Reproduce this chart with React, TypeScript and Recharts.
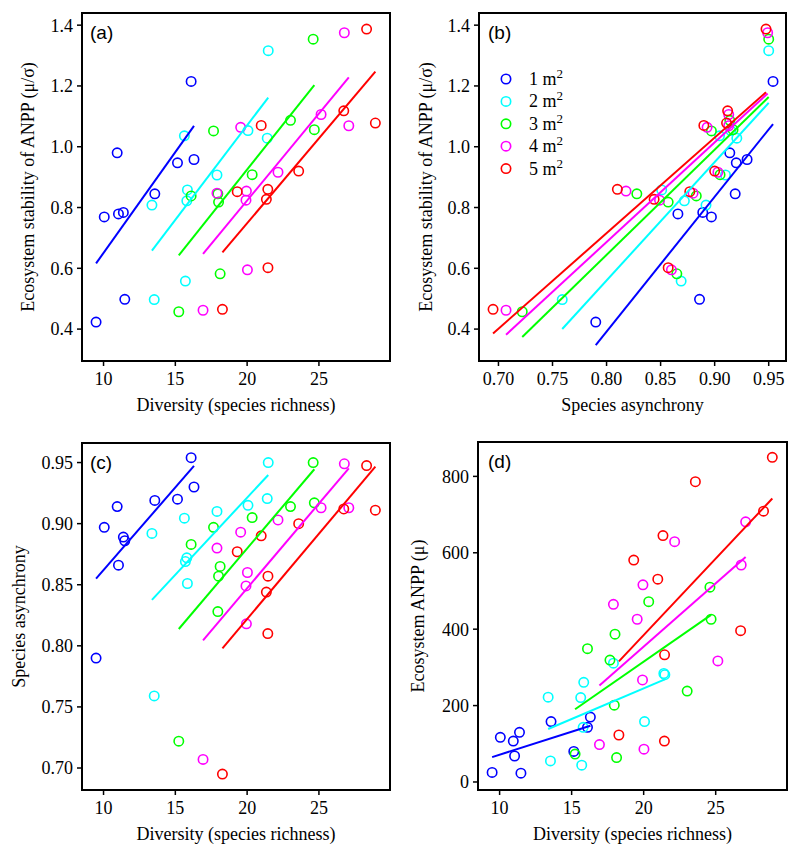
import { ScatterChart, Scatter, XAxis, YAxis, ReferenceArea, Customized } from 'recharts';

const serif = '"Liberation Serif", "Times New Roman", serif';
const sans = '"Liberation Sans", Arial, sans-serif';

const scaleNames = ['1', '2', '3', '4', '5'];
const colors = ['#0000FF', '#00FFFF', '#00FF00', '#FF00FF', '#FF0000'];

// 1 m2 plots
const richness1 = [16.1, 16.3, 13.57, 15.15, 10.95, 10.05, 11.38, 11.48, 11.04, 9.48];
const stability1 = [1.215, 0.958, 0.845, 0.947, 0.98, 0.769, 0.784, 0.498, 0.779, 0.423];
const asynchrony1 = [0.954, 0.93, 0.919, 0.92, 0.914, 0.897, 0.889, 0.886, 0.866, 0.79];
const anpp1 = [143, 170, 158, 80, 107, 117, 130, 23, 68, 25];

// 2 m2
const richness2 = [21.47, 21.4, 20.06, 17.9, 15.63, 13.37, 15.8, 15.7, 15.84, 13.53];
const stability2 = [1.316, 1.028, 1.053, 0.907, 1.036, 0.808, 0.822, 0.558, 0.858, 0.497];
const asynchrony2 = [0.95, 0.9205, 0.915, 0.91, 0.9045, 0.892, 0.872, 0.869, 0.851, 0.759];
const anpp2 = [281, 284, 158, 311, 221, 222, 143, 44, 261, 55];

// 3 m2
const richness3 = [24.6, 24.68, 23.02, 20.35, 17.66, 16.1, 18.12, 18.01, 17.96, 15.24];
const stability3 = [1.354, 1.056, 1.087, 0.908, 1.052, 0.838, 0.582, 0.818, 0.845, 0.457];
const asynchrony3 = [0.95, 0.917, 0.914, 0.905, 0.897, 0.883, 0.865, 0.857, 0.828, 0.722];
const anpp3 = [510, 426, 238, 472, 319, 349, 64, 387, 201, 73];

// 4 m2
const richness4 = [26.77, 25.15, 27.08, 22.15, 19.55, 17.9, 20.02, 19.92, 19.95, 16.93];
const stability4 = [1.375, 1.106, 1.069, 0.916, 1.064, 0.847, 0.595, 0.824, 0.854, 0.462];
const asynchrony4 = [0.949, 0.913, 0.913, 0.903, 0.893, 0.88, 0.86, 0.849, 0.818, 0.707];
const anpp4 = [568, 317, 681, 629, 426, 465, 86, 267, 516, 98];

// 5 m2
const richness5 = [28.32, 26.73, 28.93, 23.59, 20.98, 19.31, 21.45, 21.34, 21.44, 18.28];
const stability5 = [1.387, 1.118, 1.078, 0.92, 1.07, 0.852, 0.602, 0.827, 0.86, 0.465];
const asynchrony5 = [0.9475, 0.912, 0.911, 0.9, 0.89, 0.877, 0.857, 0.844, 0.81, 0.695];
const anpp5 = [709, 396, 850, 786, 531, 581, 333, 645, 107, 123];

const richness = [richness1, richness2, richness3, richness4, richness5];
const stability = [stability1, stability2, stability3, stability4, stability5];
const asynchrony = [asynchrony1, asynchrony2, asynchrony3, asynchrony4, asynchrony5];
const anpp = [anpp1, anpp2, anpp3, anpp4, anpp5];

const richnessTicks = [10, 15, 20, 25];
const stabilityTicks = [0.4, 0.6, 0.8, 1.0, 1.2, 1.4];
const asynchronyTicks = [0.7, 0.75, 0.8, 0.85, 0.9, 0.95];
const anppTicks = [0, 200, 400, 600, 800];

const richnessDomain: [number, number] = [8.5, 29.95];
const stabilityDomain: [number, number] = [0.295, 1.44];
const asynchronyDomain: [number, number] = [0.682, 0.966];
const anppDomain: [number, number] = [-21, 890];

// least squares fit across the range of each group
function fitLine(xs: number[], ys: number[]) {
  const n = xs.length;
  const mx = xs.reduce((s, v) => s + v, 0) / n;
  const my = ys.reduce((s, v) => s + v, 0) / n;
  let sxy = 0;
  let sxx = 0;
  for (let i = 0; i < n; i++) {
    sxy += (xs[i] - mx) * (ys[i] - my);
    sxx += (xs[i] - mx) * (xs[i] - mx);
  }
  const b = sxy / sxx;
  const a = my - b * mx;
  const x0 = Math.min(...xs);
  const x1 = Math.max(...xs);
  return [
    { x: x0, y: a + b * x0 },
    { x: x1, y: a + b * x1 },
  ];
}

const ring = (color: string) => (props: any) => (
  <circle cx={props.cx} cy={props.cy} r={4.7} fill="none" stroke={color} strokeWidth={1.6} />
);
const noShape = () => <g />;

function Tag({ text, x, y }: { text: string; x: number; y: number }) {
  return (
    <text x={x} y={y} fontFamily={sans} fontSize={19} fill="#000">
      {text}
    </text>
  );
}

function ScaleLegend() {
  return (
    <g>
      {scaleNames.map((name, i) => {
        const cy = 79 + i * 22.4;
        return (
          <g key={name}>
            <circle cx={106} cy={cy} r={4.7} fill="none" stroke={colors[i]} strokeWidth={1.6} />
            <text x={129} y={cy + 6} fontFamily={serif} fontSize={18} fill="#000">
              {`${name} m`}
              <tspan dy={-7} fontSize={13}>2</tspan>
            </text>
          </g>
        );
      })}
    </g>
  );
}

interface PanelProps {
  left: number;
  top: number;
  height: number;
  margin: { top: number; right: number; bottom: number; left: number };
  yAxisWidth: number;
  xs: number[][];
  ys: number[][];
  xDomain: [number, number];
  yDomain: [number, number];
  xTicks: number[];
  yTicks: number[];
  xFmt: (v: number) => string;
  yFmt: (v: number) => string;
  xLabel: string;
  yLabel: string;
  yLabelOffset: number;
  tag: string;
  tagX: number;
  tagY: number;
  legend?: boolean;
}

function Panel(p: PanelProps) {
  const tickStyle = { fill: '#000', fontSize: 18, fontFamily: serif };
  return (
    <div style={{ position: 'absolute', left: p.left, top: p.top }}>
      <ScatterChart width={400} height={p.height} margin={p.margin}>
        <XAxis
          type="number"
          dataKey="x"
          domain={p.xDomain}
          ticks={p.xTicks}
          allowDataOverflow
          tickFormatter={p.xFmt}
          axisLine={false}
          tickLine={{ stroke: '#000', strokeWidth: 1.5 }}
          tickSize={5}
          tickMargin={6}
          tick={tickStyle}
          height={50}
          label={{ value: p.xLabel, position: 'insideBottom', offset: 0, fill: '#000', fontSize: 18, fontFamily: serif }}
        />
        <YAxis
          type="number"
          dataKey="y"
          domain={p.yDomain}
          ticks={p.yTicks}
          allowDataOverflow
          tickFormatter={p.yFmt}
          axisLine={false}
          tickLine={{ stroke: '#000', strokeWidth: 1.5 }}
          tickSize={5}
          tickMargin={4}
          tick={tickStyle}
          width={p.yAxisWidth}
          label={{
            value: p.yLabel,
            angle: -90,
            position: 'insideLeft',
            offset: p.yLabelOffset,
            fill: '#000',
            fontSize: 18,
            fontFamily: serif,
            style: { textAnchor: 'middle' },
          }}
        />
        {p.xs.map((xv, i) => (
          <Scatter
            key={`pts-${i}`}
            data={xv.map((x, j) => ({ x, y: p.ys[i][j] }))}
            shape={ring(colors[i])}
            isAnimationActive={false}
          />
        ))}
        {p.xs.map((xv, i) => (
          <Scatter
            key={`fit-${i}`}
            data={fitLine(xv, p.ys[i])}
            line={{ stroke: colors[i], strokeWidth: 2 }}
            shape={noShape}
            isAnimationActive={false}
          />
        ))}
        <ReferenceArea
          x1={p.xDomain[0]}
          x2={p.xDomain[1]}
          y1={p.yDomain[0]}
          y2={p.yDomain[1]}
          fill="none"
          fillOpacity={0}
          stroke="#000"
          strokeWidth={2}
          strokeOpacity={1}
        />
        <Customized component={<Tag text={p.tag} x={p.tagX} y={p.tagY} />} />
        {p.legend && <Customized component={<ScaleLegend />} />}
      </ScatterChart>
    </div>
  );
}

const fmt1 = (v: number) => v.toFixed(1);
const fmt2 = (v: number) => v.toFixed(2);
const fmt0 = (v: number) => String(v);

export default function App() {
  return (
    <div style={{ width: 800, height: 857 }}>
      <Panel
        left={0}
        top={0}
        height={420}
        margin={{ top: 13, right: 10, bottom: 9, left: 0 }}
        yAxisWidth={82}
        xs={richness}
        ys={stability}
        xDomain={richnessDomain}
        yDomain={stabilityDomain}
        xTicks={richnessTicks}
        yTicks={stabilityTicks}
        xFmt={fmt0}
        yFmt={fmt1}
        xLabel="Diversity (species richness)"
        yLabel="Ecosystem stability of ANPP (μ/σ)"
        yLabelOffset={28}
        tag="(a)"
        tagX={90}
        tagY={39}
      />
      <Panel
        left={400}
        top={0}
        height={420}
        margin={{ top: 13, right: 14, bottom: 9, left: 0 }}
        yAxisWidth={79}
        xs={asynchrony}
        ys={stability}
        xDomain={asynchronyDomain}
        yDomain={stabilityDomain}
        xTicks={asynchronyTicks}
        yTicks={stabilityTicks}
        xFmt={fmt2}
        yFmt={fmt1}
        xLabel="Species asynchrony"
        yLabel="Ecosystem stability of ANPP (μ/σ)"
        yLabelOffset={26}
        tag="(b)"
        tagX={88}
        tagY={39}
        legend
      />
      <Panel
        left={0}
        top={420}
        height={437}
        margin={{ top: 23, right: 10, bottom: 17, left: 0 }}
        yAxisWidth={82}
        xs={richness}
        ys={asynchrony}
        xDomain={richnessDomain}
        yDomain={asynchronyDomain}
        xTicks={richnessTicks}
        yTicks={asynchronyTicks}
        xFmt={fmt0}
        yFmt={fmt2}
        xLabel="Diversity (species richness)"
        yLabel="Species asynchrony"
        yLabelOffset={19}
        tag="(c)"
        tagX={90}
        tagY={49}
      />
      <Panel
        left={400}
        top={420}
        height={437}
        margin={{ top: 22, right: 13, bottom: 17, left: 0 }}
        yAxisWidth={78}
        xs={richness}
        ys={anpp}
        xDomain={richnessDomain}
        yDomain={anppDomain}
        xTicks={richnessTicks}
        yTicks={anppTicks}
        xFmt={fmt0}
        yFmt={fmt0}
        xLabel="Diversity (species richness)"
        yLabel="Ecosystem ANPP (μ)"
        yLabelOffset={18}
        tag="(d)"
        tagX={88}
        tagY={48}
      />
    </div>
  );
}
